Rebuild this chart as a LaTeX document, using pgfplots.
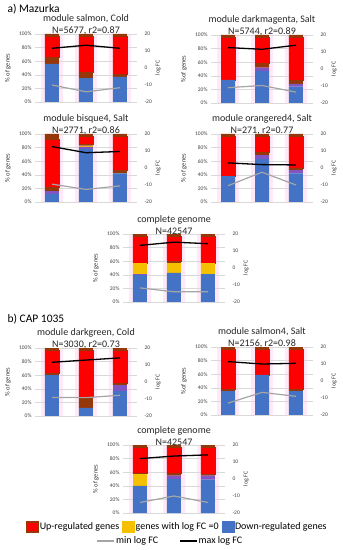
\documentclass[border=0pt]{standalone}
\usepackage{pgfplots}
\pgfplotsset{compat=1.18}
\usepackage{pgfplotstable}
\usepackage{fontspec}
\setmainfont{Carlito}

\definecolor{cblue}{RGB}{68,114,196}
\definecolor{cpurple}{RGB}{130,85,195}
\definecolor{cyellow}{RGB}{245,192,0}
\definecolor{cbrown}{RGB}{150,55,10}
\definecolor{cred}{RGB}{255,0,0}
\definecolor{cgray}{RGB}{165,165,165}
\definecolor{halo}{RGB}{255,232,247}

\pgfplotstableread{
x b p y bl r bt
0 56 0 0 10 30 4
1 35 0 0 8 53 4
2 37 0 0 4 55 4
}\tA
\pgfplotstableread{
x b p y bl r bt
0 34 0 0 0 62 4
1 47 5 0 6 38 4
2 24 4 0 5 63 4
}\tB
\pgfplotstableread{
x b p y bl r bt
0 12 4 0 6 70 8
1 78 3 2 2 11 4
2 42 0 0 4 50 4
}\tC
\pgfplotstableread{
x b p y bl r bt
0 38 0 0 0 58 4
1 63 6 0 4 23 4
2 42 5 0 3 46 4
}\tD
\pgfplotstableread{
x b p y bl r bt
0 40 1 16 0 39 4
1 43 0 14 3 36 4
2 41 0 16 0 39 4
}\tE
\pgfplotstableread{
x b p y bl r bt
0 60 0 0 3 33 4
1 12 0 0 16 68 4
2 37 8 0 3 48 4
}\tF
\pgfplotstableread{
x b p y bl r bt
0 35 0 0 2 59 4
1 59 0 0 0 37 4
2 35 0 0 2 59 4
}\tG
\pgfplotstableread{
x b p y bl r bt
0 40 0 17 1 38 4
1 50 5 0 3 38 4
2 49 6 0 2 39 4
}\tH

\pgfplotsset{
  base/.style={scale only axis, width=102pt, height=68pt, xmin=-0.5, xmax=2.5,
    anchor=south west, hide x axis, y axis line style={draw=none},
    major tick length=0pt,
    tick label style={font=\fontsize{5.5}{6}\selectfont, text=black!75},
    label style={font=\fontsize{6.5}{7}\selectfont, text=black!80}},
}

\newcommand{\panel}[7]{%
  \begin{axis}[base, hide axis, at={(#1,#2)}, ymin=0, ymax=100]
    \addplot[ybar, bar width=22pt, bar shift=0pt, fill=halo, draw=none] coordinates {(0,100)(1,100)(2,100)};
  \end{axis}
  \begin{axis}[base, at={(#1,#2)}, ymin=0, ymax=100, ybar stacked, bar width=14pt,
      axis y line*=left, ytick={0,20,40,60,80,100},
      yticklabels={0\%,20\%,40\%,60\%,80\%,100\%},
      ymajorgrids, grid style={black!15, line width=0.4pt},
      ylabel={#7}, ylabel style={at={(axis description cs:-0.265,0.5)}, anchor=center},
      title={#3},
      title style={at={(0.5,1)}, anchor=south, inner sep=0pt, yshift=-6.5pt, align=center,
        font=\fontsize{10}{11.5}\selectfont, text=black!85}]
    \addplot[fill=cblue, draw=none] table[x=x,y=b]{#4};
    \addplot[fill=cpurple, draw=none] table[x=x,y=p]{#4};
    \addplot[fill=cyellow, draw=none] table[x=x,y=y]{#4};
    \addplot[fill=cbrown, draw=none] table[x=x,y=bl]{#4};
    \addplot[fill=cred, draw=cbrown, line width=0.7pt] table[x=x,y=r]{#4};
    \addplot[fill=cbrown, draw=none] table[x=x,y=bt]{#4};
  \end{axis}
  \begin{axis}[base, at={(#1,#2)}, ymin=-20, ymax=20, axis y line*=right,
      ytick={-20,-10,0,10,20}, yticklabels={-20,-10,0,10,20},
      yticklabel style={xshift=4pt},
      ylabel={log FC}, ylabel style={at={(axis description cs:1.206,0.5)}, anchor=center,
        font=\fontsize{6}{7}\selectfont}]
    \addplot[cgray, line width=1.2pt] coordinates {#6};
    \addplot[black, line width=1.3pt] coordinates {#5};
  \end{axis}
}

\begin{document}
\begin{tikzpicture}
\useasboundingbox (0,0) rectangle (343pt,550pt);
\node[anchor=west, font=\fontsize{11.5}{13}\selectfont] at (4pt,541pt) {a) Mazurka};
\node[anchor=west, font=\fontsize{11.5}{13}\selectfont] at (4pt,231pt) {b) CAP 1035};

\panel{35pt}{448pt}{module salmon, Cold\\N=5677, r2=0.87}{\tA}{(0,11.6)(1,13.4)(2,11.6)}{(0,-10)(1,-14)(2,-11.6)}{\% of genes}
\panel{211pt}{447pt}{module darkmagenta, Salt\\N=5744, r2=0.89}{\tB}{(0,12.6)(1,11.6)(2,14)}{(0,-11)(1,-9.7)(2,-13.6)}{\%of genes}
\panel{35pt}{348pt}{module bisque4, Salt\\N=2771, r2=0.86}{\tC}{(0,12.6)(1,9)(2,9.7)}{(0,-9.5)(1,-12.6)(2,-10.5)}{\% of genes}
\panel{211pt}{348pt}{module orangered4, Salt\\N=271, r2=0.77}{\tD}{(0,3)(1,2)(2,1.8)}{(0,-10.4)(1,-2.5)(2,-10)}{\% of genes}
\panel{123pt}{248pt}{complete genome\\N=42547}{\tE}{(0,13.3)(1,15.2)(2,14.3)}{(0,-11.7)(1,-14)(2,-14)}{\% of genes}
\panel{35pt}{134pt}{module darkgreen, Cold\\N=3030, r2=0.73}{\tF}{(0,11.6)(1,12.9)(2,14.2)}{(0,-9.1)(1,-9.2)(2,-7.8)}{\% of genes}
\panel{211pt}{135pt}{module salmon4, Salt\\N=2156, r2=0.98}{\tG}{(0,11.4)(1,10)(2,10.4)}{(0,-13)(1,-6.7)(2,-9)}{\%of genes}
\panel{123pt}{37pt}{complete genome\\N=42547}{\tH}{(0,12)(1,13.5)(2,14.2)}{(0,-13.8)(1,-10)(2,-13.8)}{\% of genes}

\begin{axis}[hide axis, scale only axis, width=10pt, height=10pt, xmin=0, xmax=1, ymin=0, ymax=1,
  at={(177pt,23pt)}, anchor=center,
  legend style={at={(0.5,0.5)}, anchor=center, draw=none, fill=none, legend columns=3,
    font=\fontsize{10}{12}\selectfont, inner sep=0pt, nodes={inner sep=1pt},
    /tikz/every even column/.append style={column sep=2pt}},
  legend cell align=left]
  \addplot[draw=none, forget plot] coordinates {(0,0)};
  \addlegendimage{legend image code/.code={\draw[fill=cred, draw=cbrown, line width=1.4pt] (0pt,-5pt) rectangle (11pt,5pt);}}
  \addlegendentry{Up-regulated genes}
  \addlegendimage{legend image code/.code={\fill[cyellow] (0pt,-5.5pt) rectangle (12pt,5.5pt);}}
  \addlegendentry{genes with log FC =0}
  \addlegendimage{legend image code/.code={\fill[cblue] (0pt,-5.5pt) rectangle (12pt,5.5pt);}}
  \addlegendentry{Down-regulated genes}
\end{axis}
\begin{axis}[hide axis, scale only axis, width=10pt, height=10pt, xmin=0, xmax=1, ymin=0, ymax=1,
  at={(170pt,9pt)}, anchor=center,
  legend style={at={(0.5,0.5)}, anchor=center, draw=none, fill=none, legend columns=2,
    font=\fontsize{10}{12}\selectfont, inner sep=0pt, nodes={inner sep=1pt},
    /tikz/every even column/.append style={column sep=20pt}},
  legend cell align=left]
  \addplot[draw=none, forget plot] coordinates {(0,0)};
  \addlegendimage{legend image code/.code={\draw[cgray, line width=1.4pt] (0pt,0pt) -- (17pt,0pt);}}
  \addlegendentry{min log FC}
  \addlegendimage{legend image code/.code={\draw[black, line width=1.4pt] (0pt,0pt) -- (17pt,0pt);}}
  \addlegendentry{max log FC}
\end{axis}
\end{tikzpicture}
\end{document}
